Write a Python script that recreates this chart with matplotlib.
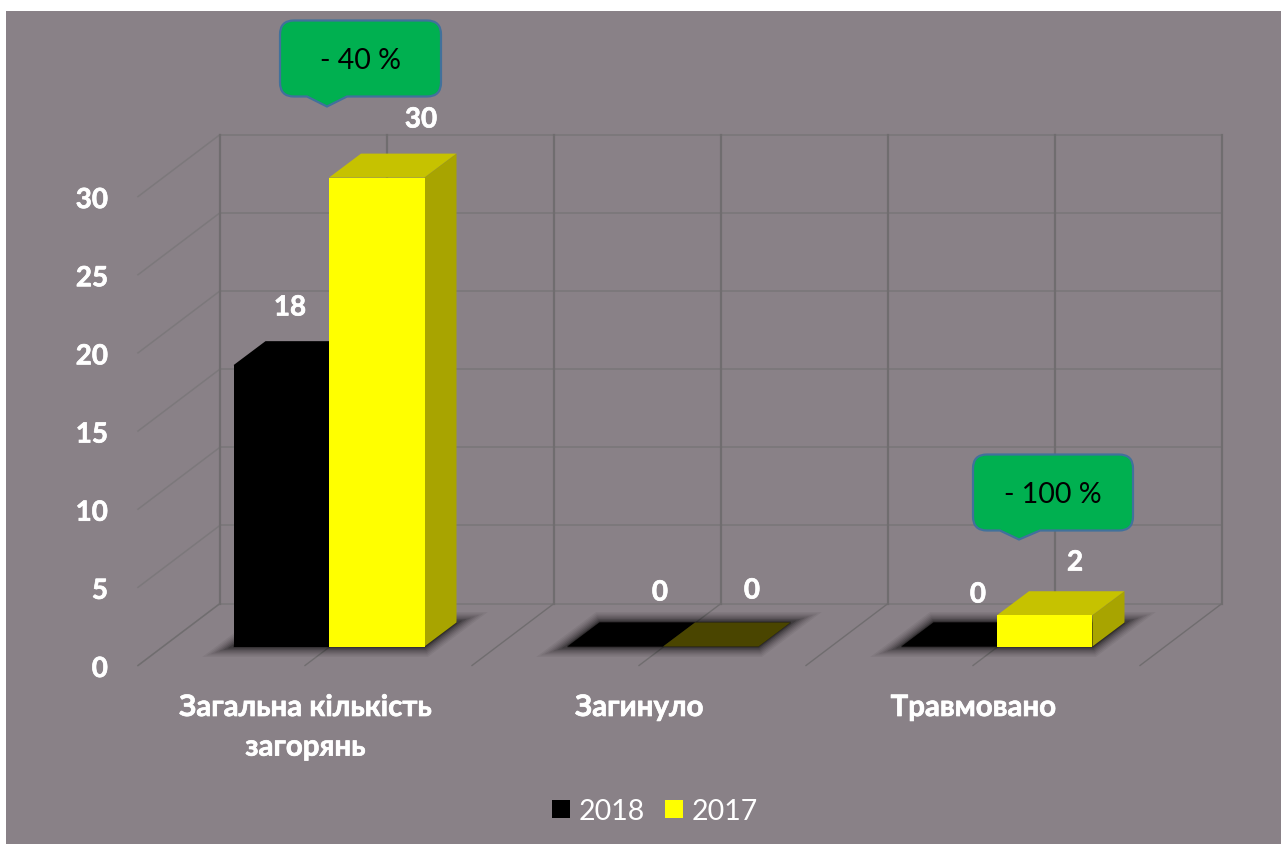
import matplotlib
matplotlib.use("Agg")
import matplotlib.pyplot as plt
import matplotlib.patheffects as pe
from matplotlib.patches import PathPatch, Polygon
from matplotlib.path import Path

plt.rcParams["font.family"] = ["Lato", "Open Sans", "DejaVu Sans"]

categories = ["Загальна кількість\nзагорянь", "Загинуло", "Травмовано"]
values_2018 = [18, 0, 0]
values_2017 = [30, 0, 2]
y_ticks = [0, 5, 10, 15, 20, 25, 30]

BG = "#898187"
GRID_V = "#706d6f"
GRID_H = "#7c787b"
YELLOW = "#ffff00"
YELLOW_TOP = "#c6c200"
YELLOW_SIDE = "#a8a400"
YELLOW_FLAT = "#4a4500"
GREEN = "#00b050"
EDGE = "#41719c"

# pixel geometry of the picture: category 0 sits at x=329, value 0 at y=646
W, H = 1281, 845
X0, XSTEP = 329.0, 334.0
Y0, YSTEP = 646.0, 15.63
BOLD = [pe.withStroke(linewidth=0.5, foreground="white")]


def to_x(px):
    return (px - X0) / XSTEP


def to_y(py):
    return (Y0 - py) / YSTEP


fig = plt.figure(figsize=(W / 100, H / 100), dpi=100, facecolor="white")
ax = fig.add_axes([6 / W, 0, (W - 6) / W, (H - 12) / H], facecolor=BG)
ax.set_xlim(to_x(6), to_x(W))
ax.set_ylim(to_y(H - 1.5), to_y(10.5))
ax.set_xticks([])
ax.set_yticks([])
for s in ax.spines.values():
    s.set_visible(False)

# ── walls and floor ───────────────────────────────────────────────────────────
back_x, front_x = to_x(220), to_x(138)
back_y, front_y = to_y(603), to_y(665)
for v in y_ticks:
    ax.plot([back_x, back_x + 3], [back_y + v, back_y + v], color=GRID_H, lw=1.4, zorder=1)
    ax.plot([front_x, back_x], [front_y + v, back_y + v], color=GRID_H, lw=1.1, zorder=1)
for k in range(7):
    bx = back_x + k * 0.5
    ax.plot([bx, bx], [back_y, back_y + 30], color=GRID_V, lw=1.6, zorder=1)
    ax.plot([front_x + k * 0.5, bx], [front_y, back_y], color=GRID_V, lw=1.0, zorder=1)

# ── bars ──────────────────────────────────────────────────────────────────────
bar_w = 95.5 / XSTEP
dx, dy = 32 / XSTEP, 24 / YSTEP
xs = list(range(len(categories)))


def draw_shadow(x_left, x_right):
    pts = [(x_left, 0), (x_right, 0), (x_right + dx, dy), (x_left + dx, dy)]
    for lw, a in [(15, 0.05), (13, 0.06), (11, 0.07), (9, 0.09), (7, 0.11), (5, 0.14), (3, 0.18), (1.5, 0.25)]:
        ax.add_patch(Polygon(pts, closed=True, facecolor=(0, 0, 0, 0.0), edgecolor=(0, 0, 0, a),
                             lw=lw, joinstyle="miter", zorder=2))
    ax.add_patch(Polygon(pts, closed=True, facecolor="#141214", edgecolor="none", zorder=2))


def draw_faces(x_left, v, top_c, side_c):
    x_right = x_left + bar_w
    ax.add_patch(Polygon([(x_left, v), (x_right, v), (x_right + dx, v + dy), (x_left + dx, v + dy)],
                         closed=True, facecolor=top_c, edgecolor="none", zorder=3))
    if v > 0:
        ax.add_patch(Polygon([(x_right, 0), (x_right + dx, dy), (x_right + dx, v + dy), (x_right, v)],
                             closed=True, facecolor=side_c, edgecolor="none", zorder=3))


for x in xs:
    draw_shadow(x - bar_w, x + bar_w)

for x, v in zip(xs, values_2018):
    draw_faces(x - bar_w, v, "black", "black")
bars_2018 = ax.bar([x - bar_w / 2 for x in xs], values_2018, bar_w, color="black", zorder=4, label="2018")

for x, v in zip(xs, values_2017):
    draw_faces(x, v, YELLOW_TOP if v > 0 else YELLOW_FLAT, YELLOW_SIDE)
bars_2017 = ax.bar([x + bar_w / 2 for x in xs], values_2017, bar_w, color=YELLOW, zorder=5, label="2017")

# ── labels ────────────────────────────────────────────────────────────────────
for v in y_ticks:
    ax.text(to_x(108), front_y + v - 3.5 / YSTEP, str(v), ha="right", va="center", color="white",
            fontsize=20, fontweight="bold", path_effects=BOLD, zorder=6)

for x, name in zip(xs, categories):
    ax.text(x - 24 / XSTEP, to_y(694.5), name, ha="center", va="top", color="white",
            fontsize=21.2, fontweight="bold", linespacing=1.65, path_effects=BOLD, zorder=6)

# data labels were placed by hand in the source chart
labels_2018_px = [(290, 307), (660, 592), (978, 594)]
labels_2017_px = [(421, 119), (752, 590), (1075, 562)]
for v, (px, py) in zip(values_2018 + values_2017, labels_2018_px + labels_2017_px):
    ax.text(to_x(px), to_y(py), str(v), ha="center", va="center", color="white",
            fontsize=20, fontweight="bold", path_effects=BOLD, zorder=6)


def callout(left, top, right, bottom, tip_x, tip_y, base_l, base_r, text):
    r = 14
    pts = [
        (left + r, top), (right - r, top), (right, top), (right, top + r),
        (right, bottom - r), (right, bottom), (right - r, bottom),
        (base_r, bottom), (tip_x, tip_y), (base_l, bottom),
        (left + r, bottom), (left, bottom), (left, bottom - r),
        (left, top + r), (left, top), (left + r, top), (left + r, top),
    ]
    codes = [Path.MOVETO, Path.LINETO, Path.CURVE3, Path.CURVE3,
             Path.LINETO, Path.CURVE3, Path.CURVE3,
             Path.LINETO, Path.LINETO, Path.LINETO,
             Path.LINETO, Path.CURVE3, Path.CURVE3,
             Path.LINETO, Path.CURVE3, Path.CURVE3, Path.CLOSEPOLY]
    verts = [(to_x(a), to_y(b)) for a, b in pts]
    ax.add_patch(PathPatch(Path(verts, codes), facecolor=GREEN, edgecolor=EDGE, lw=1.6, zorder=7))
    ax.text(to_x((left + right) / 2), to_y((top + bottom) / 2 + 2), text, ha="center", va="center",
            color="black", fontsize=20.5, zorder=8)


callout(280, 20, 441, 96, 327, 106, 307, 347, "- 40 %")
callout(973, 454, 1133, 530, 1019, 539, 1000, 1040, "- 100 %")

ax.legend(handles=[bars_2018, bars_2017], loc="center",
          bbox_to_anchor=((655 - 6) / (W - 6), (H - 812) / (H - 12)),
          ncol=2, frameon=False, fontsize=20.5, labelcolor="white",
          handlelength=0.64, handleheight=0.64, handletextpad=0.3, columnspacing=0.72)

fig.savefig("out.png", dpi=100)
